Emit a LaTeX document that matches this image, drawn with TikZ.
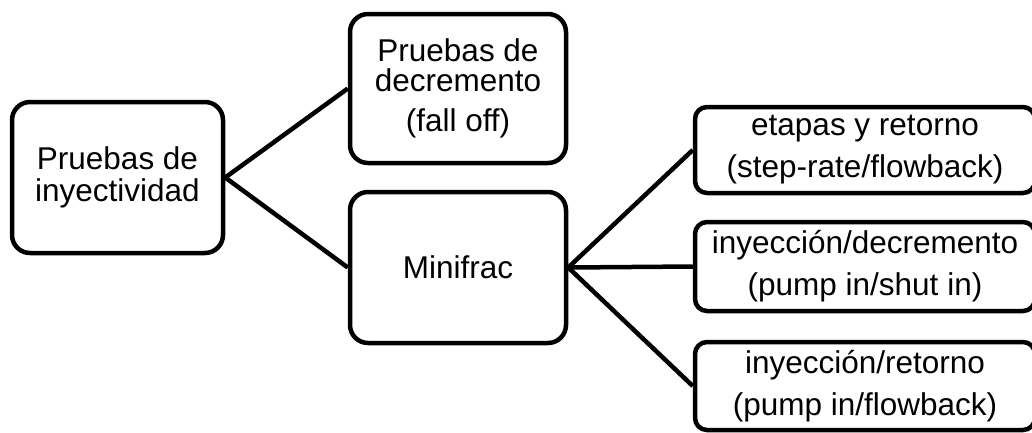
\documentclass[tikz,border=0pt]{standalone}
\usepackage{fontspec}
\setmainfont{Liberation Sans}
\begin{document}
\begin{tikzpicture}[x=1pt,y=-1pt,
  box/.style={draw, line width=4.5pt, rounded corners=18pt, align=center, inner sep=0pt,
    font=\fontsize{31.5}{32}\selectfont},
  smallbox/.style={box, rounded corners=12pt},
  conn/.style={line width=4.5pt}]
\useasboundingbox (0,0) rectangle (1032,432);
\clip (0,0) rectangle (1032,432);
\node[box, minimum width=211pt, minimum height=151pt] (A) at (117.5,177.5) {Pruebas de\\inyectividad};
\node[box, minimum width=216pt, minimum height=149pt, font=\fontsize{31.5}{30}\selectfont] (B) at (458,88.5) {Pruebas de\\decremento\\[10pt](fall off)};
\node[box, minimum width=216pt, minimum height=151pt] (C) at (458,267.5) {Minifrac};
\node[smallbox, minimum width=340pt, minimum height=86pt] (D) at (865,150) {etapas y retorno\\[10pt](step-rate/flowback)};
\node[smallbox, minimum width=340pt, minimum height=89pt] (E) at (865,266.5) {inyección/decremento\\[10pt](pump in/shut in)};
\node[smallbox, minimum width=340pt, minimum height=88pt] (F) at (865,386) {inyección/retorno\\[10pt](pump in/flowback)};
\draw[conn] (A.east) -- (B.west);
\draw[conn] (A.east) -- (C.west);
\draw[conn] (C.east) -- (D.west);
\draw[conn] (C.east) -- (E.west);
\draw[conn] (C.east) -- (F.west);
\end{tikzpicture}
\end{document}
